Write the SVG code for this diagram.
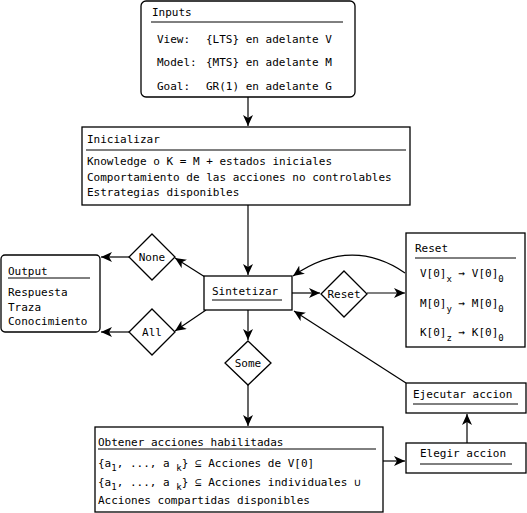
<svg xmlns="http://www.w3.org/2000/svg" width="527" height="513" viewBox="0 0 527 513">
<defs>
<marker id="ah" markerWidth="12" markerHeight="10" refX="11" refY="5" orient="auto" markerUnits="userSpaceOnUse">
<path d="M0,0 L11,5 L0,10 L3,5 z" fill="#000"/>
</marker>
<style>
text{font-family:"DejaVu Sans Mono","Liberation Mono",monospace;font-size:11px;fill:#000}
.c{text-anchor:middle}
.sub{font-size:9px}
.box{fill:#fff;stroke:#000;stroke-width:1.3}
.sep{stroke:#000;stroke-width:1}
.ed{fill:none;stroke:#000;stroke-width:1.2;marker-end:url(#ah)}
</style>
</defs>
<rect width="527" height="513" fill="#fff"/>
<g id="connectors">
<path class="ed" d="M248,97 L248,126"/>
<path class="ed" d="M248,205 L248,275"/>
<path class="ed" d="M205,277 L175,258"/>
<path class="ed" d="M206,310 L175,331"/>
<path class="ed" d="M130,257 L101,257"/>
<path class="ed" d="M130,332 L101,332"/>
<path class="ed" d="M292,293 L320,293"/>
<path class="ed" d="M367,293 L405,293"/>
<path class="ed" d="M405,273 Q351,236 293,276"/>
<path class="ed" d="M248,310 L248,340"/>
<path class="ed" d="M248,385 L248,426"/>
<path class="ed" d="M383,461 L405,461"/>
<path class="ed" d="M467,443 L467,414"/>
<path class="ed" d="M406,383 L294,311"/>
</g>
<g id="inputs">
<rect class="box" x="141" y="1" width="214" height="96" rx="5"/>
<text x="152" y="16">Inputs</text>
<line class="sep" x1="151" y1="22" x2="343" y2="22"/>
<text x="157" y="43">View:</text><text x="206" y="43">{LTS} en adelante V</text>
<text x="157" y="66">Model:</text><text x="206" y="66">{MTS} en adelante M</text>
<text x="157" y="90">Goal:</text><text x="206" y="90">GR(1) en adelante G</text>
</g>
<g id="inicializar">
<rect class="box" x="82" y="127" width="328" height="78"/>
<text x="87" y="143">Inicializar</text>
<line class="sep" x1="86" y1="150" x2="406" y2="150"/>
<text x="87" y="165">Knowledge o K = M + estados iniciales</text>
<text x="87" y="181">Comportamiento de las acciones no controlables</text>
<text x="87" y="196">Estrategias disponibles</text>
</g>
<g id="sintetizar">
<rect class="box" x="204" y="276" width="88" height="34"/>
<text x="212" y="295">Sintetizar</text>
<line class="sep" x1="212" y1="300" x2="282" y2="300"/>
</g>
<g id="none">
<path class="box" d="M152,234 L175,257 L152,280 L129,257 Z"/>
<text class="c" x="152" y="261">None</text>
</g>
<g id="all">
<path class="box" d="M152,309 L175,332 L152,355 L129,332 Z"/>
<text class="c" x="152" y="336">All</text>
</g>
<g id="output">
<rect class="box" x="1" y="255" width="99" height="77" rx="4"/>
<text x="8" y="275">Output</text>
<line class="sep" x1="8" y1="278" x2="90" y2="278"/>
<text x="8" y="296">Respuesta</text>
<text x="8" y="311">Traza</text>
<text x="8" y="325">Conocimiento</text>
</g>
<g id="reset-decision">
<path class="box" d="M344,271 L367,294 L344,317 L321,294 Z"/>
<text class="c" x="344" y="298">Reset</text>
</g>
<g id="reset">
<rect class="box" x="406" y="233" width="119" height="114"/>
<text x="415" y="252">Reset</text>
<line class="sep" x1="415" y1="258" x2="516" y2="258"/>
<text x="420" y="277">V[0]<tspan class="sub" dy="5">x</tspan><tspan dy="-5"> → V[0]</tspan><tspan class="sub" dy="5">0</tspan></text>
<text x="420" y="307">M[0]<tspan class="sub" dy="5">y</tspan><tspan dy="-5"> → M[0]</tspan><tspan class="sub" dy="5">0</tspan></text>
<text x="420" y="336">K[0]<tspan class="sub" dy="5">z</tspan><tspan dy="-5"> → K[0]</tspan><tspan class="sub" dy="5">0</tspan></text>
</g>
<g id="some">
<path class="box" d="M248,341 L271,363 L248,385 L225,363 Z"/>
<text class="c" x="248" y="367">Some</text>
</g>
<g id="obtener">
<rect class="box" x="95" y="427" width="288" height="85"/>
<text x="98" y="446">Obtener acciones habilitadas</text>
<line class="sep" x1="98" y1="449" x2="376" y2="449"/>
<text x="98" y="467">{a<tspan class="sub" dy="4">1</tspan><tspan dy="-4">, ..., a </tspan><tspan class="sub" dy="4">k</tspan><tspan dy="-4">} ⊆ Acciones de V[0]</tspan></text>
<text x="98" y="486">{a<tspan class="sub" dy="4">1</tspan><tspan dy="-4">, ..., a </tspan><tspan class="sub" dy="4">k</tspan><tspan dy="-4">} ⊆ Acciones individuales ∪</tspan></text>
<text x="98" y="504">Acciones compartidas disponibles</text>
</g>
<g id="ejecutar">
<rect class="box" x="406" y="383" width="120" height="30"/>
<text x="413" y="398">Ejecutar accion</text>
<line class="sep" x1="413" y1="404" x2="518" y2="404"/>
</g>
<g id="elegir">
<rect class="box" x="406" y="443" width="120" height="30"/>
<text x="420" y="457">Elegir accion</text>
<line class="sep" x1="420" y1="464" x2="512" y2="464"/>
</g>
</svg>
